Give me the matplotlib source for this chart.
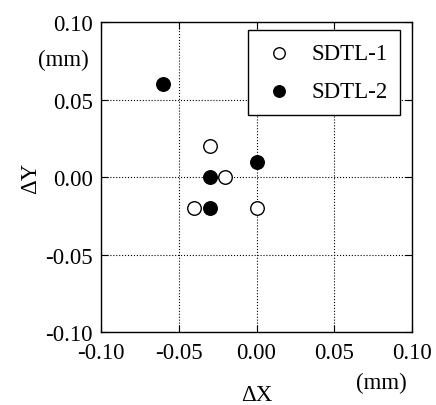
import matplotlib
matplotlib.use("Agg")
from matplotlib import pyplot as plt

sdtl1_x = [-0.03, -0.02, -0.04, 0.00]
sdtl1_y = [0.02, 0.00, -0.02, -0.02]
sdtl2_x = [-0.06, 0.00, -0.03, -0.03]
sdtl2_y = [0.06, 0.01, 0.00, -0.02]
ticks = [-0.10, -0.05, 0.00, 0.05, 0.10]
tick_labels = ["-0.10", "-0.05", "0.00", "0.05", "0.10"]

plt.rcParams["font.family"] = ["Liberation Serif", "DejaVu Serif"]

fig = plt.figure(figsize=(4.36, 4.06), dpi=100)
ax = fig.add_axes([101 / 436, 1 - 333 / 406, 311 / 436, 310 / 406])

ax.scatter(sdtl1_x, sdtl1_y, s=95, facecolors="white", edgecolors="black",
           linewidths=1.0, label="SDTL-1", zorder=3)
ax.scatter(sdtl2_x, sdtl2_y, s=95, facecolors="black", edgecolors="black",
           linewidths=1.0, label="SDTL-2", zorder=3)

ax.set_xlim(-0.10, 0.10)
ax.set_ylim(-0.10, 0.10)
ax.set_xticks(ticks)
ax.set_xticklabels(tick_labels)
ax.set_yticks(ticks)
ax.set_yticklabels(tick_labels)
ax.tick_params(direction="in", top=True, right=True, length=5, labelsize=16.5)
ax.tick_params(axis="x", pad=7)
ax.tick_params(axis="y", pad=6)
ax.grid(True, linestyle=":", color="black", linewidth=0.8)
for s in ax.spines.values():
    s.set_linewidth(1.0)

ax.set_xlabel("ΔX", fontsize=16.5, labelpad=15)
ax.set_ylabel("ΔY", fontsize=16.5, labelpad=3)
fig.text(63 / 436, 1 - 60 / 406, "(mm)", fontsize=16.5, ha="center", va="center")
fig.text(381 / 436, 1 - 383 / 406, "(mm)", fontsize=16.5, ha="center", va="center")

leg = ax.legend(loc="upper right", fontsize=16.5, frameon=True, fancybox=False,
                edgecolor="black", framealpha=1, borderpad=0.55, handletextpad=0.6,
                handlelength=1.6, labelspacing=0.75, borderaxespad=0,
                markerscale=0.85, bbox_to_anchor=(0.961, 0.974))
leg.get_frame().set_linewidth(1.0)

fig.savefig("out.png", dpi=100)
